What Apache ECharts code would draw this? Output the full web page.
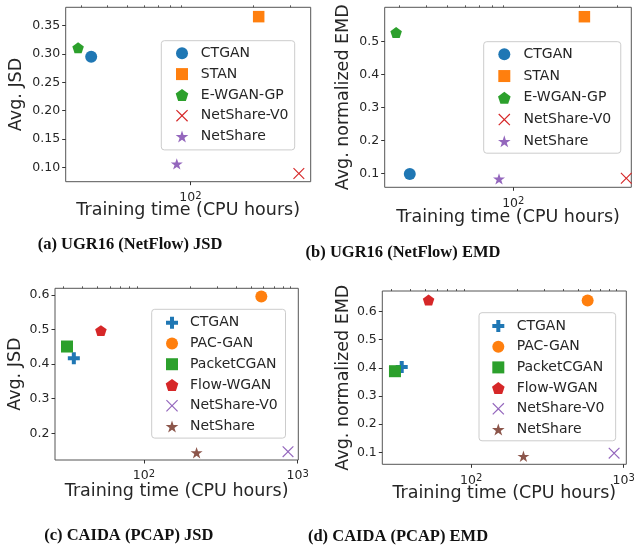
<!DOCTYPE html>
<html><head><meta charset="utf-8">
<script src="https://cdn.jsdelivr.net/npm/echarts@6/dist/echarts.min.js"></script>
<style>html,body{margin:0;padding:0;background:#fff}#c{width:637px;height:550px}</style>
</head><body><div id="c"></div>
<script>
// ---------- data ----------
const ugrMethods = ['CTGAN', 'STAN', 'E-WGAN-GP', 'NetShare-V0', 'NetShare'];
const ugrHours = [33.5, 212, 29, 330, 86];
const ugrJSD = [0.295, 0.366, 0.311, 0.089, 0.106];
const ugrEMD = [0.098, 0.576, 0.528, 0.085, 0.083];

const caidaMethods = ['CTGAN', 'PAC-GAN', 'PacketCGAN', 'Flow-WGAN', 'NetShare-V0', 'NetShare'];
const caidaHours = [35, 580, 31.6, 52.5, 865, 220];
const caidaJSD = [0.417, 0.596, 0.451, 0.497, 0.147, 0.144];
const caidaEMD = [0.403, 0.639, 0.388, 0.641, 0.097, 0.086];

const xMajorTicks = [100, 1000];
const xMinorTicks = [20, 30, 40, 50, 60, 70, 80, 90, 200, 300, 400, 500, 600, 700, 800, 900];
const yTicksA = [0.10, 0.15, 0.20, 0.25, 0.30, 0.35];
const yTicksB = [0.1, 0.2, 0.3, 0.4, 0.5];
const yTicksC = [0.2, 0.3, 0.4, 0.5, 0.6];
const yTicksD = [0.1, 0.2, 0.3, 0.4, 0.5, 0.6];

const captions = ['(a) UGR16 (NetFlow) JSD', '(b) UGR16 (NetFlow) EMD', '(c) CAIDA (PCAP) JSD', '(d) CAIDA (PCAP) EMD'];
const xTitle = 'Training time (CPU hours)';
const yTitles = ['Avg. JSD', 'Avg. normalized EMD', 'Avg. JSD', 'Avg. normalized EMD'];

// ---------- styles ----------
const SQUARE = 'path://M0,0L10,0L10,10L0,10Z';
const PENT = 'path://M10,0L19.511,6.910L15.878,18.090L4.122,18.090L0.489,6.910Z';
const STAR = 'path://M10,0L12.245,6.910L19.511,6.910L13.633,11.180L15.878,18.090L10,13.820L4.122,18.090L6.367,11.180L0.489,6.910L7.755,6.910Z';
const PLUS = 'path://M2,0L4,0L4,2L6,2L6,4L4,4L4,6L2,6L2,4L0,4L0,2L2,2Z';
const XMARK = 'path://M0,0.7L0.7,0L5,4.3L9.3,0L10,0.7L5.7,5L10,9.3L9.3,10L5,5.7L0.7,10L0,9.3L4.3,5Z';

const ugrStyle = [
  {c: '#1f77b4', s: 'circle', z: 12},
  {c: '#ff7f0e', s: SQUARE, z: 11.5},
  {c: '#2ca02c', s: PENT, z: 11.5},
  {c: '#d62728', s: XMARK, z: 11.5},
  {c: '#9467bd', s: STAR, z: 12}
];
const caidaStyle = [
  {c: '#1f77b4', s: PLUS, z: 12},
  {c: '#ff7f0e', s: 'circle', z: 12},
  {c: '#2ca02c', s: SQUARE, z: 12},
  {c: '#d62728', s: PENT, z: 11.5},
  {c: '#9467bd', s: XMARK, z: 11.5},
  {c: '#8c564b', s: STAR, z: 12}
];

const FONT = 'DejaVu Sans';
const TXT = '#262626';
const panels = [
  {key: 'a', methods: ugrMethods, hours: ugrHours, vals: ugrJSD, sty: ugrStyle,
   grid: {left: 65.7, top: 7.3, width: 245, height: 174.4}, xr: [25.3, 376], yr: [0.0746, 0.3825],
   yt: yTicksA, dec: 2, yGap: 40.4, xGap: 20,
   lg: {left: 161.3, top: 40.7, pad: [5.6, 6.2, 6.4, 14.4], gap: 6.8, iw: 27.6}, cap: [130, 244.5]},
  {key: 'b', methods: ugrMethods, hours: ugrHours, vals: ugrEMD, sty: ugrStyle,
   grid: {left: 384.7, top: 7.3, width: 246.6, height: 180}, xr: [25.7, 348], yr: [0.0574, 0.6046],
   yt: yTicksB, dec: 1, yGap: 31.9, xGap: 21.1,
   lg: {left: 483.7, top: 41.7, pad: [5.6, 9.6, 4.9, 14.3], gap: 7.75, iw: 28.3}, cap: [403, 252.7]},
  {key: 'c', methods: caidaMethods, hours: caidaHours, vals: caidaJSD, sty: caidaStyle,
   grid: {left: 55, top: 288.3, width: 243.3, height: 171.7}, xr: [26.4, 1009], yr: [0.1228, 0.6194],
   yt: yTicksC, dec: 1, yGap: 30.2, xGap: 22,
   lg: {left: 151.7, top: 309.3, pad: [6.4, 7.8, 4.6, 14], gap: 6.76, iw: 26}, cap: [128.8, 536]},
  {key: 'd', methods: caidaMethods, hours: caidaHours, vals: caidaEMD, sty: caidaStyle,
   grid: {left: 382.3, top: 291, width: 244, height: 173.3}, xr: [26.1, 1040], yr: [0.0574, 0.6728],
   yt: yTicksD, dec: 1, yGap: 29.5, xGap: 20.1,
   lg: {left: 479, top: 312.7, pad: [6.3, 11.3, 4.3, 13], gap: 6.7, iw: 26.7}, cap: [398, 536.5]}
];

const grid = [], xAxis = [], yAxis = [], series = [], legend = [], graphic = [];
panels.forEach((p, k) => {
  grid.push(Object.assign({show: true, borderColor: '#555', borderWidth: 1, backgroundColor: 'transparent',
    containLabel: false, outerBoundsMode: 'none'}, p.grid));
  // main x axis: major ticks, labels, name
  xAxis.push({
    type: 'log', logBase: 10, gridIndex: k, min: p.xr[0], max: p.xr[1],
    name: xTitle, nameLocation: 'middle', nameGap: p.xGap, nameMoveOverlap: false,
    nameTextStyle: {fontFamily: FONT, fontSize: 17.5, lineHeight: 18, color: TXT},
    axisLine: {show: false}, splitLine: {show: false},
    axisTick: {show: true, length: 3.5, customValues: xMajorTicks, lineStyle: {color: '#333', width: 1}},
    axisLabel: {
      show: true, margin: 9.6, customValues: xMajorTicks,
      formatter: v => '{n|10}{s|' + Math.round(Math.log10(v)) + '}',
      rich: {
        n: {fontFamily: FONT, fontSize: 12.5, lineHeight: 13, padding: [3.4, 0, 0, 0], verticalAlign: 'bottom', color: TXT},
        s: {fontFamily: FONT, fontSize: 10, lineHeight: 10, verticalAlign: 'top', color: TXT}
      }
    }
  });
  // minor ticks axis
  xAxis.push({
    type: 'log', logBase: 10, gridIndex: k, min: p.xr[0], max: p.xr[1],
    axisLine: {show: false}, splitLine: {show: false}, axisLabel: {show: false},
    axisTick: {show: true, length: 2, customValues: xMinorTicks, lineStyle: {color: '#333', width: 0.8}}
  });
  yAxis.push({
    type: 'value', gridIndex: k, min: p.yr[0], max: p.yr[1],
    name: yTitles[k], nameLocation: 'middle', nameGap: p.yGap, nameMoveOverlap: false,
    nameTextStyle: {fontFamily: FONT, fontSize: 17.5, lineHeight: 18, color: TXT},
    axisLine: {show: false}, splitLine: {show: false},
    axisTick: {show: true, length: 3.5, customValues: p.yt, lineStyle: {color: '#333', width: 1}},
    axisLabel: {show: true, margin: 5.5, customValues: p.yt, fontFamily: FONT, fontSize: 12.5, color: TXT,
      formatter: v => Number(v).toFixed(p.dec)}
  });
  const names = [];
  p.methods.forEach((m, i) => {
    const nm = p.key + '|' + m;
    names.push(nm);
    series.push({
      type: 'scatter', name: nm, xAxisIndex: 2 * k, yAxisIndex: k,
      symbol: p.sty[i].s, symbolSize: p.sty[i].z, symbolKeepAspect: true,
      itemStyle: {color: p.sty[i].c, opacity: 1},
      emphasis: {disabled: true}, silent: true, z: 3,
      data: [[p.hours[i], p.vals[i]]]
    });
  });
  legend.push({
    show: true, orient: 'vertical', left: p.lg.left, top: p.lg.top, padding: p.lg.pad,
    itemGap: p.lg.gap, itemWidth: p.lg.iw, itemHeight: 12, symbolKeepAspect: true,
    selectedMode: false, data: names, formatter: n => n.split('|')[1],
    textStyle: {fontFamily: FONT, fontSize: 14, lineHeight: 12, color: TXT},
    backgroundColor: 'rgba(255,255,255,0.8)', borderColor: '#cccccc', borderWidth: 1, borderRadius: 3, z: 10
  });
  graphic.push({
    type: 'text', x: p.cap[0], y: p.cap[1], silent: true,
    style: {text: captions[k], font: 'bold 16.5px "Liberation Serif"', fill: '#111', align: 'center', verticalAlign: 'middle'}
  });
});

const chart = echarts.init(document.getElementById('c'), null, {renderer: 'canvas'});
chart.setOption({animation: false, backgroundColor: '#fff', grid, xAxis, yAxis, series, legend, graphic});
</script>
</body></html>
